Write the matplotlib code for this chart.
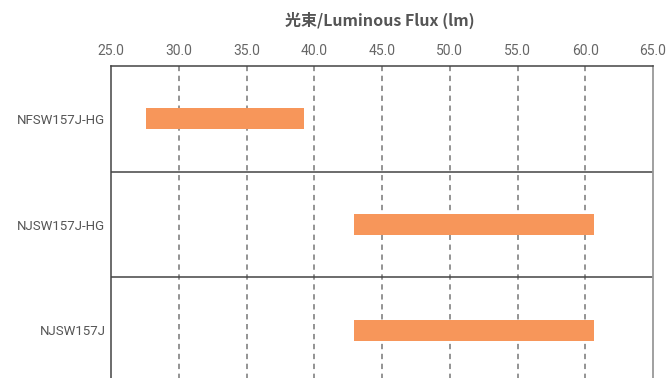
import numpy as np
import matplotlib.pyplot as plt

products = ["NFSW157J-HG", "NJSW157J-HG", "NJSW157J"]
flux_min = [27.6, 42.9, 42.9]
flux_max = [39.25, 60.65, 60.65]
ticks = [25.0, 30.0, 35.0, 40.0, 45.0, 50.0, 55.0, 60.0, 65.0]

plt.rcParams['font.family'] = ['Roboto', 'Noto Sans CJK JP', 'DejaVu Sans']

fig = plt.figure(figsize=(6.68, 3.78), dpi=100)
ax = fig.add_axes([111 / 668, 1 - 383 / 378, 542 / 668, 317 / 378])

y = np.arange(len(products))
widths = np.array(flux_max) - np.array(flux_min)
ax.barh(y, widths, left=flux_min, height=0.2, color='#F7965A', zorder=3)

ax.set_xlim(25, 65)
ax.set_ylim(len(products) - 0.5, -0.5)
ax.set_yticks(y)
ax.set_yticklabels(products, color='#555555', fontsize=9.5)
ax.set_xticks(ticks)
ax.set_xticklabels([f"{t:.1f}" for t in ticks], color='#666666', fontsize=10)
ax.xaxis.tick_top()
ax.tick_params(axis='both', length=0)
ax.tick_params(axis='x', pad=6)
ax.tick_params(axis='y', pad=4)

for t in ticks[1:-1]:
    ax.axvline(t, color='#777777', linestyle=(0, (3.5, 3)), linewidth=1.1, zorder=1)
for b in np.arange(0.5, len(products) - 0.5, 1):
    ax.axhline(b, color='#444444', linewidth=1.1, zorder=2)

for side in ['left', 'top']:
    ax.spines[side].set_color('#444444')
    ax.spines[side].set_linewidth(1.1)
ax.spines['right'].set_color('#999999')
ax.spines['right'].set_linewidth(1.3)
ax.spines['bottom'].set_visible(False)

fig.text(0.568, 0.945, "光束/Luminous Flux (lm)", ha='center', va='center',
         fontsize=11.5, fontweight='bold', color='#555555',
         family=['Noto Sans CJK JP', 'DejaVu Sans'])

fig.savefig("out.png", dpi=100)
